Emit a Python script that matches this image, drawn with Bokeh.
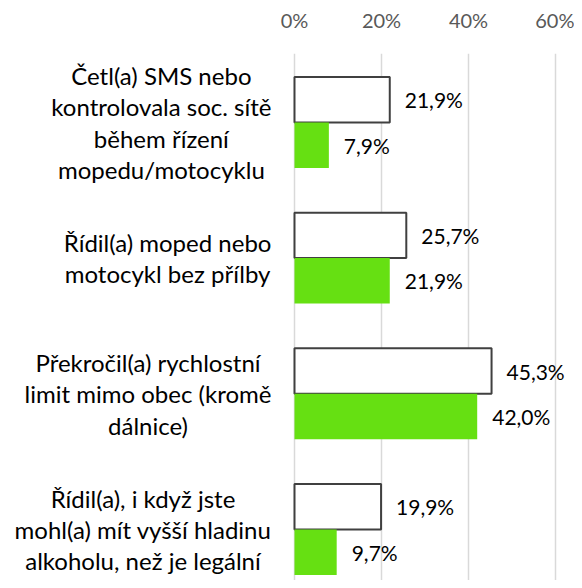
from bokeh.plotting import figure
from bokeh.models import Range1d, FixedTicker
from bokeh.core.properties import value
from bokeh.embed import file_html
from bokeh.resources import INLINE

categories = [
    "Četl(a) SMS nebo\nkontrolovala soc. sítě\nběhem řízení\nmopedu/motocyklu",
    "Řídil(a) moped nebo\nmotocykl bez přílby",
    "Překročil(a) rychlostní\nlimit mimo obec (kromě\ndálnice)",
    "Řídil(a), i když jste\nmohl(a) mít vyšší hladinu\nalkoholu, než je legální",
]
series_white = [21.9, 25.7, 45.3, 19.9]
series_green = [7.9, 21.9, 42.0, 9.7]
tick_values = [0, 20, 40, 60]
tick_labels = ["0%", "20%", "40%", "60%"]

FONT = "Lato"
bar_h = 0.335
idx = list(range(len(categories)))
y_white = [i - bar_h / 2 for i in idx]
y_green = [i + bar_h / 2 for i in idx]

def fmt(v):
    return ("%.1f%%" % v).replace(".", ",")

W, H = 574, 580
x0_px, px_per = 294.0, 4.35
p = figure(width=W, height=H,
           x_range=Range1d(-x0_px / px_per, (W - x0_px) / px_per),
           y_range=Range1d(3.376, -0.508),
           x_axis_location="above", y_axis_location=None,
           toolbar_location=None, output_backend="svg",
           min_border_left=0, min_border_right=0, min_border_top=53, min_border_bottom=0)
p.outline_line_color = None
p.background_fill_color = "white"

p.hbar(y=y_white, left=0, right=series_white, height=bar_h,
       fill_color="white", line_color="#404040", line_width=2)
p.hbar(y=y_green, left=0, right=series_green, height=bar_h,
       fill_color="#66e012", line_color=None)

p.text(x=series_white, y=y_white, text=[fmt(v) for v in series_white],
       x_offset=15, text_align="left", text_baseline="middle",
       text_font=value(FONT), text_font_size="21px", text_color="#000000")
p.text(x=series_green, y=y_green, text=[fmt(v) for v in series_green],
       x_offset=15, text_align="left", text_baseline="middle",
       text_font=value(FONT), text_font_size="21px", text_color="#000000")

p.text(x=[-5.3] * len(categories), y=idx, text=categories,
       text_align="center", anchor="center_right", text_baseline="middle",
       text_line_height=1.08,
       text_font=value(FONT), text_font_size="24px", text_color="#000000")

ax = p.xaxis[0]
ax.ticker = FixedTicker(ticks=tick_values)
ax.major_label_overrides = dict(zip(tick_values, tick_labels))
ax.axis_line_color = None
ax.major_tick_line_color = None
ax.minor_tick_line_color = None
ax.major_label_text_font = FONT
ax.major_label_text_font_size = "20px"
ax.major_label_text_color = "#595959"
ax.major_label_standoff = 16

p.xgrid[0].ticker = FixedTicker(ticks=tick_values)
p.xgrid.grid_line_color = "#d9d9d9"
p.xgrid.grid_line_width = 1.5
p.ygrid.visible = False

open("out.html", "w").write(file_html(p, INLINE))
